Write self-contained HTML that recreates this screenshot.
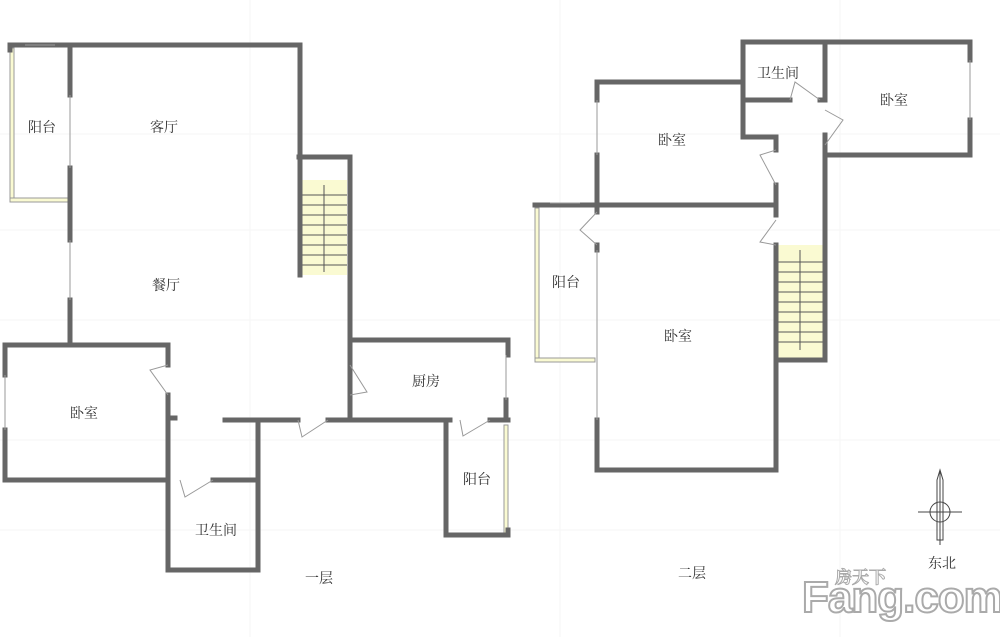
<!DOCTYPE html><html><head><meta charset="utf-8"><style>body{margin:0;background:#fff}svg{display:block}text{font-family:"Liberation Serif","Noto Serif CJK SC",serif;font-size:14px;fill:#333}</style></head><body>
<svg width="1000" height="637" viewBox="0 0 1000 637" xmlns="http://www.w3.org/2000/svg">
<g stroke="#f6f6f6" stroke-width="1"><line x1="0" y1="134" x2="1000" y2="134"/><line x1="0" y1="230" x2="1000" y2="230"/><line x1="0" y1="320" x2="1000" y2="320"/><line x1="0" y1="440" x2="1000" y2="440"/><line x1="0" y1="530" x2="1000" y2="530"/><line x1="250" y1="0" x2="250" y2="637"/><line x1="560" y1="0" x2="560" y2="637"/><line x1="840" y1="0" x2="840" y2="637"/></g>
<g fill="#fafad2"><rect x="302" y="180" width="45" height="95"/><rect x="778" y="245" width="47" height="115"/></g>
<g fill="#fafad2" stroke="#999" stroke-width="1"><rect x="10" y="48" width="4" height="152"/><rect x="504" y="425" width="4" height="108"/><rect x="535" y="208" width="4" height="152"/><rect x="10" y="198" width="58" height="4"/><rect x="535" y="358" width="60" height="4"/></g>
<g stroke="#555" stroke-width="1"><path d="M302 195H347M302 205H347M302 215H347M302 225H347M302 235H347M302 245H347M302 255H347M302 265H347M324 185V272"/><path d="M778 262H825M778 272H825M778 282H825M778 292H825M778 302H825M778 312H825M778 322H825M778 332H825M778 342H825M800 250V350"/></g>
<g stroke="#666" stroke-width="5" fill="none" stroke-linecap="square">
<path d="M10 45H300V275"/><path d="M70 45V95M70 168V240M70 300V345"/><path d="M10 45V50"/>
<path d="M299 157H350V420"/>
<path d="M5 345H168V365M168 395V570H258V420"/><path d="M5 345V375M5 430V480H168M213 480H258"/><path d="M168 418H175"/>
<path d="M225 420H298M328 420H450M490 420H508"/>
<path d="M350 340H508V355M506 400V420"/><path d="M350 365V340M350 395V420"/>
<path d="M446 420V535H508V530"/>
<path d="M743 42H970V60M970 120V155H825V135M825 100V42"/>
<path d="M825 135V360H776"/>
<path d="M743 42V137H776V150M776 185V215M776 245V470H597V420M597 250V245"/>
<path d="M597 212V205H776M535 205H597"/>
<path d="M743 100H790M820 100H825"/>
<path d="M597 205V155M597 100V82H743"/>
</g>
<g stroke="#999" stroke-width="1" fill="none"><path d="M70 95V168M70 240V300M5 375V430M506 355V400M970 60V120M597 100V155M597 250V420M25 45H55M550 203H580"/>
<path d="M168 365L150 370L168 395"/><path d="M180 480L185 497L213 480"/><path d="M350 365L367 392L350 395"/><path d="M298 420L302 437L328 420"/><path d="M460 420L463 436L490 420"/><path d="M790 100L795 82L820 100"/><path d="M825 110L843 120L825 145"/><path d="M776 150L760 155L776 185"/><path d="M776 220L760 242L776 245"/><path d="M597 212L580 230L597 245"/></g>
<g stroke="#444" stroke-width="1" fill="none"><line x1="940" y1="470" x2="940" y2="545"/><line x1="918" y1="512" x2="962" y2="512"/><circle cx="940" cy="512" r="10"/><path d="M937 480L940 470L943 480V540H937Z"/></g>
<text x="28" y="132">阳台</text><text x="150" y="132">客厅</text><text x="152" y="290">餐厅</text><text x="70" y="418">卧室</text><text x="412" y="386">厨房</text><text x="463" y="484">阳台</text><text x="195" y="535">卫生间</text><text x="305" y="583">一层</text>
<text x="757" y="78">卫生间</text><text x="880" y="105">卧室</text><text x="658" y="145">卧室</text><text x="552" y="287">阳台</text><text x="664" y="341">卧室</text><text x="678" y="578">二层</text><text x="928" y="568">东北</text>
<text x="802" y="612" style="font-family:'Liberation Sans',sans-serif;font-size:44px;font-weight:bold;fill:#fff;stroke:#aaa;stroke-width:2;letter-spacing:-1px">Fang.com</text>
<text x="835" y="583" style="font-size:17px;font-weight:bold;fill:#fff;stroke:#aaa;stroke-width:1">房天下</text>
</svg></body></html>
